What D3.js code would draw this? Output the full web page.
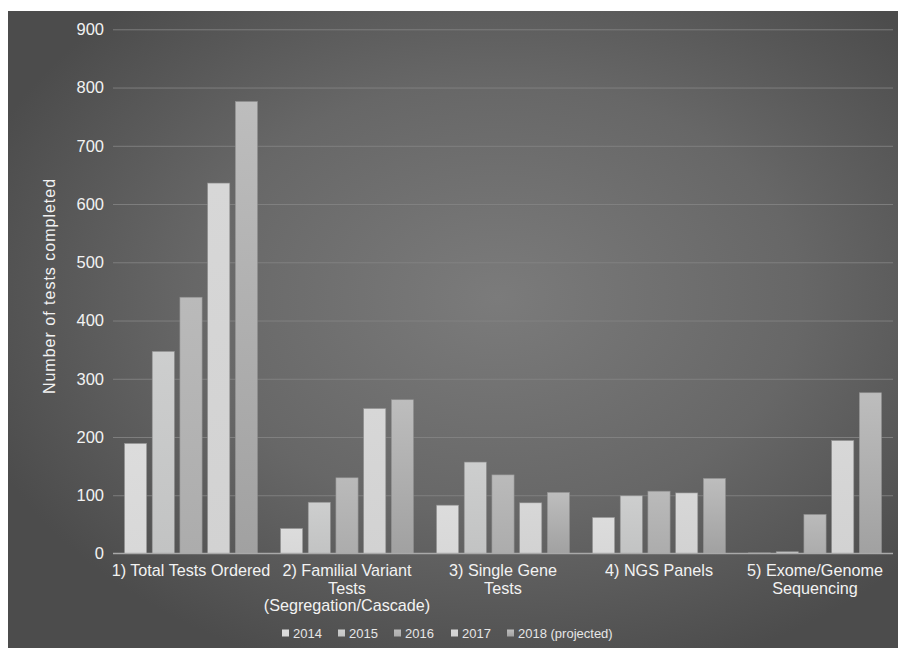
<!DOCTYPE html>
<html>
<head>
<meta charset="utf-8">
<script src="https://cdn.jsdelivr.net/npm/d3@7"></script>
<style>
  html, body { margin: 0; padding: 0; background: #ffffff; }
  svg { display: block; font-family: "Liberation Sans", Arial, Helvetica, sans-serif; }
</style>
</head>
<body>
<svg id="chart" width="898" height="648"></svg>
<script>
// Genetic test volumes by category and year
const categories = [
  ["1) Total Tests Ordered"],
  ["2) Familial Variant", "Tests", "(Segregation/Cascade)"],
  ["3) Single Gene", "Tests"],
  ["4) NGS Panels"],
  ["5) Exome/Genome", "Sequencing"]
];
const seriesNames = ["2014", "2015", "2016", "2017", "2018 (projected)"];
const values2014 = [189, 43, 83, 62, 1];
const values2015 = [347, 88, 157, 99, 3];
const values2016 = [440, 130, 135, 107, 67];
const values2017 = [636, 249, 87, 104, 194];
const values2018 = [776, 264, 105, 129, 276];
const yTicks = [0, 100, 200, 300, 400, 500, 600, 700, 800, 900];

const series = [values2014, values2015, values2016, values2017, values2018];

// Bar fills: [top colour, bottom colour]
const fills = [
  ["#dcdcdc", "#d8d8d8"],
  ["#cdcece", "#c2c3c3"],
  ["#bababa", "#acacac"],
  ["#d7d7d7", "#d2d2d2"],
  ["#bdbdbd", "#a1a1a1"]
];

const svg = d3.select("#chart");
const W = 898, H = 648;
const plot = { left: 113, right: 893, top: 29.3, bottom: 553.5 };

const defs = svg.append("defs");

// Backdrop: soft radial light in the middle, darker toward the edges
const bg = defs.append("radialGradient").attr("id", "bg")
  .attr("cx", "0.55").attr("cy", "0.45").attr("r", "0.62");
bg.append("stop").attr("offset", "0").attr("stop-color", "#7b7b7b");
bg.append("stop").attr("offset", "0.55").attr("stop-color", "#676767");
bg.append("stop").attr("offset", "1").attr("stop-color", "#4c4c4c");

fills.forEach((f, i) => {
  const g = defs.append("linearGradient").attr("id", "bar" + i)
    .attr("x1", 0).attr("y1", 0).attr("x2", 0).attr("y2", 1);
  g.append("stop").attr("offset", "0").attr("stop-color", f[0]);
  g.append("stop").attr("offset", "1").attr("stop-color", f[1]);
});

svg.append("rect")
  .attr("x", 8).attr("y", 11).attr("width", W - 8).attr("height", H - 11)
  .attr("fill", "url(#bg)");

const x0 = d3.scaleBand()
  .domain(d3.range(categories.length))
  .range([plot.left, plot.right])
  .paddingInner(0).paddingOuter(0);

const x1 = d3.scaleBand()
  .domain(d3.range(seriesNames.length))
  .range([11.5, x0.bandwidth() - 11.5])
  .paddingInner(0.2).paddingOuter(0);

const y = d3.scaleLinear().domain([0, 900]).range([plot.bottom, plot.top]);

// Gridlines and y tick labels
const yAxis = d3.axisLeft(y).tickValues(yTicks)
  .tickSize(-(plot.right - plot.left)).tickPadding(9);
const ga = svg.append("g").attr("transform", `translate(${plot.left},0)`).call(yAxis);
ga.select(".domain").remove();
ga.selectAll(".tick line")
  .attr("stroke", "#858585").attr("stroke-width", 1)
  .attr("stroke-opacity", d => d === 0 ? 0 : 0.85);
ga.selectAll(".tick text")
  .attr("fill", "#f2f2f2").attr("font-size", 16.5);

// Bars
const groups = svg.append("g").selectAll("g")
  .data(categories)
  .join("g")
  .attr("transform", (d, i) => `translate(${x0(i)},0)`);

groups.selectAll("rect")
  .data((d, ci) => series.map((s, si) => ({ si, v: s[ci] })))
  .join("rect")
  .attr("x", d => x1(d.si))
  .attr("y", d => y(d.v))
  .attr("width", x1.bandwidth())
  .attr("height", d => y(0) - y(d.v))
  .attr("fill", d => `url(#bar${d.si})`)
  .attr("stroke", "#8f8f8f")
  .attr("stroke-width", 0.6);

// Baseline
svg.append("line")
  .attr("x1", plot.left).attr("x2", plot.right)
  .attr("y1", y(0)).attr("y2", y(0))
  .attr("stroke", "#a9a9a9").attr("stroke-width", 1.6);

// Category labels
const catLabels = svg.append("g").selectAll("text")
  .data(categories)
  .join("text")
  .attr("x", (d, i) => x0(i) + x0.bandwidth() / 2)
  .attr("y", 576)
  .attr("text-anchor", "middle")
  .attr("fill", "#f2f2f2")
  .attr("font-size", 16.2);
catLabels.selectAll("tspan")
  .data(d => d)
  .join("tspan")
  .attr("x", function () { return d3.select(this.parentNode).attr("x"); })
  .attr("dy", (d, i) => i === 0 ? 0 : 17.5)
  .text(d => d);

// Y axis title
svg.append("text")
  .attr("transform", "translate(55,286) rotate(-90)")
  .attr("text-anchor", "middle")
  .attr("fill", "#f2f2f2")
  .attr("font-size", 16)
  .attr("letter-spacing", 1)
  .text("Number of tests completed");

// Legend
const legendX = [282, 338, 394, 451, 507];
const legend = svg.append("g").selectAll("g")
  .data(seriesNames)
  .join("g")
  .attr("transform", (d, i) => `translate(${legendX[i]},633)`);
legend.append("rect")
  .attr("x", 0).attr("y", -3.5).attr("width", 7).attr("height", 7)
  .attr("fill", (d, i) => `url(#bar${i})`);
legend.append("text")
  .attr("x", 11).attr("y", 4.5)
  .attr("fill", "#e6e6e6")
  .attr("font-size", 13)
  .text(d => d);
</script>
</body>
</html>
